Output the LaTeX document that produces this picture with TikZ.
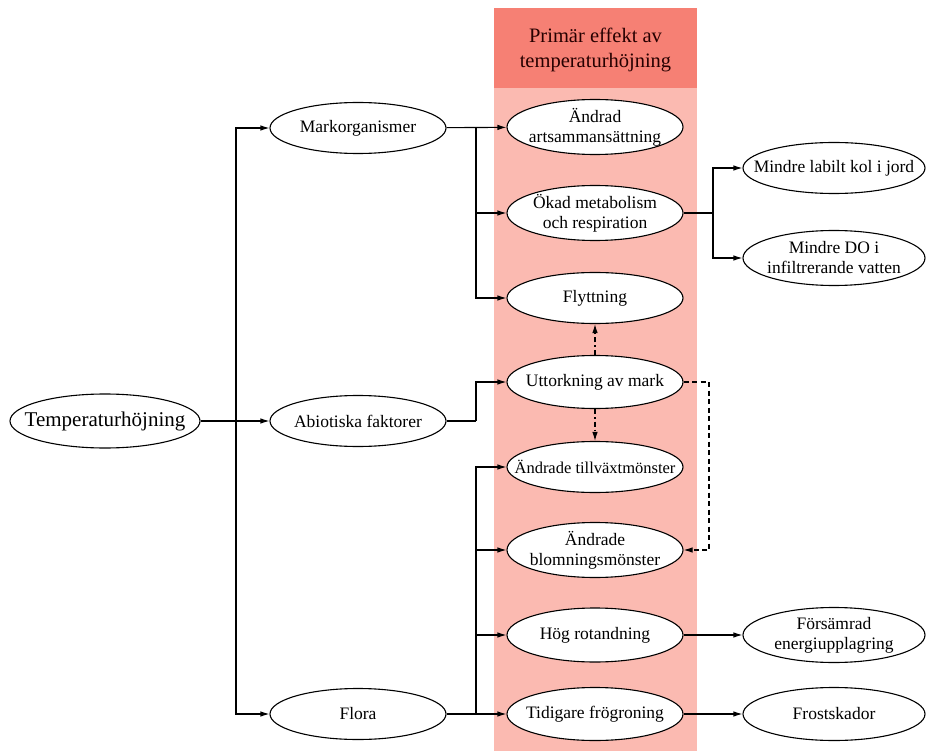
\documentclass[tikz,border=0pt]{standalone}
\usepackage{fontspec}
\setmainfont{Liberation Serif}
\usetikzlibrary{shapes.geometric,arrows.meta}
\definecolor{headred}{RGB}{246,128,116}
\definecolor{bodyred}{RGB}{251,186,177}
\tikzset{
  ell/.style={ellipse, draw=black, line width=1.1pt, fill=white, minimum width=176pt, minimum height=51pt, inner xsep=-40pt, inner ysep=-10pt, align=center, font=\fontsize{17.5}{20}\selectfont},
  conn/.style={line width=1.1pt, -{Latex[length=9pt,width=5.5pt]}},
  plain/.style={line width=1.1pt},
  dashdot/.style={line width=1.1pt, dash pattern=on 5pt off 3pt on 1.5pt off 3pt},
  dsh/.style={line width=1.1pt, dash pattern=on 5pt off 3.5pt},
}
\begin{document}
\begin{tikzpicture}[x=1pt,y=-1pt]
\useasboundingbox (0,0) rectangle (928,751);
% column
\fill[bodyred] (494,88) rectangle (697,751);
\fill[headred] (494,8) rectangle (697,88);
\node[font=\fontsize{20.5}{25}\selectfont, align=center, text=black!85!red] (head) at (595.5,50) {Primär effekt av\\temperaturhöjning};

% nodes
\node[ell, minimum width=190pt, minimum height=54pt, font=\fontsize{21}{22}\selectfont] (temp) at (105,421) {Temperaturhöjning};
\node[ell] (mark) at (358,128) {Markorganismer};
\node[ell] (abio) at (358,421) {Abiotiska faktorer};
\node[ell] (flora) at (358,714) {Flora};

\node[ell, minimum height=55pt] (art) at (595,127) {Ändrad\\artsammansättning};
\node[ell, minimum height=55pt] (okad) at (595,213) {Ökad metabolism\\och respiration};
\node[ell] (flytt) at (595,298) {Flyttning};
\node[ell, minimum height=53pt] (utt) at (595,382) {Uttorkning av mark};
\node[ell, font=\fontsize{16.5}{19}\selectfont] (tillv) at (595,467) {Ändrade tillväxtmönster};
\node[ell, minimum height=55pt] (blom) at (595,550) {Ändrade\\blomningsmönster};
\node[ell, minimum height=54pt] (rot) at (595,635) {Hög rotandning};
\node[ell, minimum height=53pt] (tid) at (595,714) {Tidigare frögroning};

\node[ell, minimum width=182pt] (kol) at (834,168) {Mindre labilt kol i jord};
\node[ell, minimum width=182pt, minimum height=55pt] (do) at (834,258) {Mindre DO i\\infiltrerande vatten};
\node[ell, minimum width=182pt, minimum height=55pt] (fors) at (834,635) {Försämrad\\energiupplagring};
\node[ell, minimum width=182pt, minimum height=53pt] (frost) at (834,714) {Frostskador};

% left connectors
\coordinate (j0) at (236,421);
\draw[conn] (temp) -- (abio);
\draw[conn] (j0) |- (mark);
\draw[conn] (j0) |- (flora);

% Markorganismer
\coordinate (j1) at (476,128);
\draw[conn] (mark) -- (art);
\draw[conn] (j1) |- (okad);
\draw[conn] (j1) |- (flytt);

% Abiotiska
\coordinate (j2) at (476,421);
\draw[plain] (abio) -- (j2);
\draw[conn] (j2) |- (utt);

% Flora
\coordinate (j3) at (476,714);
\draw[conn] (flora) -- (tid);
\draw[conn] (j3) |- (tillv);
\draw[conn] (j3) |- (blom);
\draw[conn] (j3) |- (rot);

% Okad
\coordinate (j4) at (713,213);
\draw[plain] (okad) -- (j4);
\draw[conn] (j4) |- (kol);
\draw[conn] (j4) |- (do);

% right
\draw[conn] (rot) -- (fors);
\draw[conn] (tid) -- (frost);

% dashed
\draw[dashdot, -{Latex[length=9pt,width=5.5pt]}] (utt.north) -- (flytt.south);
\draw[dashdot, -{Latex[length=9pt,width=5.5pt]}] (utt.south) -- (tillv.north);
\coordinate (j5) at (709,382);
\draw[dsh] (utt.east) -- (j5);
\draw[dsh, -{Latex[length=9pt,width=5.5pt]}] (j5) |- (blom.east);
\end{tikzpicture}
\end{document}
